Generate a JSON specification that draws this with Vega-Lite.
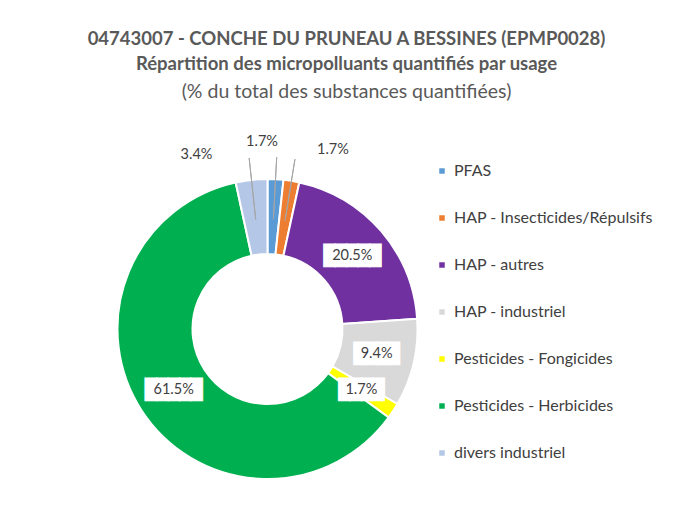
{
  "$schema": "https://vega.github.io/schema/vega-lite/v6.json",
  "width": 301,
  "height": 332,
  "autosize": {"type": "none"},
  "padding": {"left": 117, "top": 163, "right": 262, "bottom": 15},
  "background": "white",
  "config": {"view": {"stroke": null}, "font": "Lato"},
  "title": {
    "text": ["04743007 - CONCHE DU PRUNEAU A BESSINES (EPMP0028)", "Répartition des micropolluants quantifiés par usage"],
    "subtitle": "(% du total des substances quantifiées)",
    "anchor": "middle",
    "frame": "group",
    "dx": 79,
    "offset": 33,
    "font": "Lato",
    "fontSize": 18.5,
    "fontWeight": "bold",
    "color": "#595959",
    "lineHeight": 25.5,
    "subtitleFont": "Lato",
    "subtitleFontSize": 19.5,
    "subtitleColor": "#595959",
    "subtitlePadding": 9
  },
  "data": {
    "values": [
      {"category": "PFAS", "share": 0.017, "order": 1},
      {"category": "HAP - Insecticides/Répulsifs", "share": 0.017, "order": 2},
      {"category": "HAP - autres", "share": 0.205, "order": 3},
      {"category": "HAP - industriel", "share": 0.094, "order": 4},
      {"category": "Pesticides - Fongicides", "share": 0.017, "order": 5},
      {"category": "Pesticides - Herbicides", "share": 0.615, "order": 6},
      {"category": "divers industriel", "share": 0.034, "order": 7}
    ]
  },
  "layer": [
    {
      "mark": {"type": "arc", "outerRadius": 150, "innerRadius": 75, "stroke": "white", "strokeWidth": 2},
      "encoding": {
        "theta": {"field": "share", "type": "quantitative", "stack": true},
        "order": {"field": "order", "type": "quantitative"},
        "color": {
          "field": "category",
          "type": "nominal",
          "scale": {
            "domain": ["PFAS", "HAP - Insecticides/Répulsifs", "HAP - autres", "HAP - industriel", "Pesticides - Fongicides", "Pesticides - Herbicides", "divers industriel"],
            "range": ["#5B9BD5", "#ED7D31", "#7030A0", "#D9D9D9", "#FFFF00", "#00B050", "#B4C7E7"]
          },
          "legend": {
            "orient": "right",
            "offset": 16,
            "title": null,
            "symbolType": "square",
            "symbolSize": 30,
            "symbolStrokeWidth": 0,
            "labelFont": "Lato",
            "labelFontSize": 16,
            "labelColor": "#404040",
            "labelOffset": 4,
            "labelLimit": 400,
            "rowPadding": 31
          }
        }
      }
    },
    {
      "transform": [
        {"stack": "share", "groupby": [], "sort": [{"field": "order"}], "as": ["s0", "s1"]},
        {"calculate": "(datum.s0 + datum.s1) / 2", "as": "mid"},
        {"filter": "datum.order <= 2 || datum.order == 7"}
      ],
      "mark": {"type": "arc", "radius": 172, "radius2": 110, "fill": null, "stroke": "#A6A6A6", "strokeWidth": 1},
      "encoding": {
        "theta": {"field": "mid", "type": "quantitative", "stack": null},
        "theta2": {"field": "mid"}
      }
    },
    {
      "mark": {"type": "text", "radius": 112, "font": "DejaVu Sans Mono", "fontSize": 19, "fill": "white", "stroke": "white", "strokeWidth": 1, "baseline": "middle", "align": "center"},
      "encoding": {
        "theta": {"field": "share", "type": "quantitative", "stack": true},
        "order": {"field": "order", "type": "quantitative"},
        "text": {
          "condition": [
            {"test": "datum.order == 3 || datum.order == 6", "value": "█████"},
            {"test": "datum.order == 4 || datum.order == 5", "value": "████"}
          ],
          "value": ""
        }
      }
    },
    {
      "mark": {"type": "text", "radius": 112, "font": "Lato", "fontSize": 14.5, "fill": "#404040", "baseline": "middle", "align": "center"},
      "encoding": {
        "theta": {"field": "share", "type": "quantitative", "stack": true},
        "order": {"field": "order", "type": "quantitative"},
        "text": {
          "condition": {"test": "datum.order >= 3 && datum.order <= 6", "field": "share", "type": "quantitative", "format": ".1%"},
          "value": ""
        }
      }
    },
    {
      "mark": {"type": "text", "radius": 178, "dx": -52, "dy": 3, "font": "Lato", "fontSize": 14.5, "fill": "#404040", "baseline": "middle", "align": "center"},
      "encoding": {
        "theta": {"field": "share", "type": "quantitative", "stack": true},
        "order": {"field": "order", "type": "quantitative"},
        "text": {
          "condition": {"test": "datum.order == 7", "field": "share", "type": "quantitative", "format": ".1%"},
          "value": ""
        }
      }
    },
    {
      "mark": {"type": "text", "radius": 178, "dx": -15, "dy": -9, "font": "Lato", "fontSize": 14.5, "fill": "#404040", "baseline": "middle", "align": "center"},
      "encoding": {
        "theta": {"field": "share", "type": "quantitative", "stack": true},
        "order": {"field": "order", "type": "quantitative"},
        "text": {
          "condition": {"test": "datum.order == 1", "field": "share", "type": "quantitative", "format": ".1%"},
          "value": ""
        }
      }
    },
    {
      "mark": {"type": "text", "radius": 178, "dx": 37, "dy": -3, "font": "Lato", "fontSize": 14.5, "fill": "#404040", "baseline": "middle", "align": "center"},
      "encoding": {
        "theta": {"field": "share", "type": "quantitative", "stack": true},
        "order": {"field": "order", "type": "quantitative"},
        "text": {
          "condition": {"test": "datum.order == 2", "field": "share", "type": "quantitative", "format": ".1%"},
          "value": ""
        }
      }
    }
  ]
}
